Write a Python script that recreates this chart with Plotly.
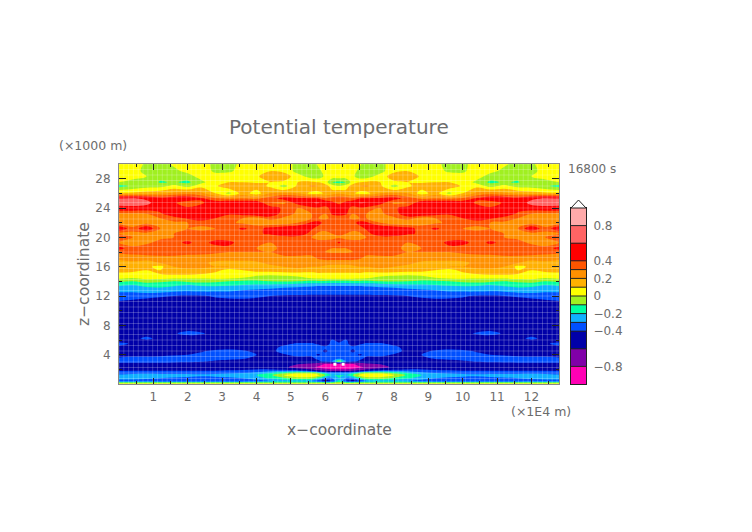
import numpy as np
import plotly.graph_objects as go

# half of the section, the field is mirrored about x = 6.4
x_half = [0, .4, .8, 1.2, 1.6, 2, 2.4, 2.8, 3.2, 3.6, 4, 4.4, 4.8, 5.2, 5.6, 5.8, 6, 6.2, 6.4]
z_levels = [0, .15, .4, .8, 1.2, 1.5, 1.9, 2.3, 2.7, 3.1, 3.5, 4, 4.5, 5, 5.5, 5.8, 6.2, 6.9, 8, 9, 11, 12, 12.5, 13,
            13.5, 14, 14.5, 15, 15.5, 16, 16.5, 17.3, 18, 18.5, 19.3, 20, 20.5, 21.2, 22, 22.6, 23.2, 24, 24.7, 25.3,
            26, 27, 27.5, 28.3, 29, 30]
theta_half = [
    [.03, .03, .03, .03, .03, .03, .03, .03, .03, .03, .03, .03, .03, .03, .03, .03, .03, .03, .03],
    [-.05, -.05, -.05, -.05, -.05, -.05, -.05, -.05, -.05, -.05, -.05, -.05, -.05, -.05, -.05, -.05, -.05, -.05, -.05],
    [-.34, -.34, -.35, -.36, -.37, -.37, -.38, -.38, -.37, -.36, -.34, -.3, -.25, -.25, -.3, -.38, -.45, -.4, -.15],
    [-.27, -.27, -.28, -.3, -.31, -.32, -.33, -.33, -.32, -.3, -.25, -.18, -.12, -.04, -.05, -.15, -.3, -.3, -.2],
    [-.28, -.25, -.25, -.26, -.27, -.27, -.28, -.27, -.26, -.24, -.2, -.12, 0, .08, .08, .03, -.1, -.2, -.2],
    [-.35, -.34, -.33, -.33, -.33, -.33, -.33, -.32, -.31, -.3, -.27, -.2, -.12, -.03, -.03, -.1, -.2, -.25, -.25],
    [-.42, -.42, -.42, -.42, -.42, -.42, -.42, -.42, -.41, -.4, -.38, -.37, -.38, -.42, -.55, -.65, -.72, -.75, -.75],
    [-.44, -.44, -.45, -.45, -.45, -.46, -.46, -.46, -.46, -.47, -.47, -.5, -.55, -.7, -.76, -.84, -.9, -.92, -.95],
    [-.42, -.43, -.43, -.43, -.43, -.44, -.45, -.45, -.45, -.46, -.46, -.47, -.5, -.6, -.66, -.72, -.82, -.85, -.85],
    [-.38, -.37, -.37, -.37, -.38, -.38, -.39, -.41, -.42, -.43, -.44, -.45, -.46, -.45, -.44, -.42, -.37, -.3, 0],
    [-.39, -.38, -.38, -.37, -.37, -.36, -.36, -.37, -.38, -.39, -.42, -.44, -.45, -.43, -.42, -.37, -.36, -.37, -.36],
    [-.43, -.42, -.42, -.42, -.41, -.4, -.38, -.37, -.37, -.36, -.4, -.42, -.41, -.37, -.38, -.41, -.37, -.36, -.38],
    [-.45, -.44, -.44, -.44, -.43, -.42, -.41, -.38, -.37, -.39, -.42, -.43, -.36, -.35, -.35, -.36, -.42, -.36, -.38],
    [-.44, -.45, -.45, -.45, -.45, -.45, -.45, -.45, -.44, -.44, -.44, -.43, -.38, -.36, -.36, -.37, -.38, -.37, -.39],
    [-.36, -.42, -.45, -.46, -.46, -.46, -.46, -.46, -.46, -.46, -.46, -.45, -.42, -.39, -.39, -.41, -.45, -.37, -.39],
    [-.44, -.45, -.45, -.46, -.46, -.46, -.46, -.46, -.46, -.46, -.46, -.46, -.45, -.43, -.43, -.44, -.45, -.38, -.41],
    [-.46, -.44, -.37, -.44, -.46, -.46, -.46, -.46, -.46, -.46, -.46, -.46, -.46, -.46, -.46, -.46, -.46, -.41, -.45],
    [-.47, -.47, -.46, -.45, -.41, -.37, -.39, -.43, -.46, -.46, -.47, -.47, -.47, -.47, -.47, -.47, -.47, -.47, -.47],
    [-.47, -.47, -.47, -.47, -.47, -.47, -.47, -.47, -.47, -.47, -.47, -.47, -.47, -.47, -.47, -.47, -.47, -.47, -.47],
    [-.47, -.47, -.47, -.47, -.47, -.47, -.47, -.47, -.47, -.47, -.47, -.47, -.47, -.47, -.47, -.47, -.47, -.47, -.47],
    [-.42, -.43, -.44, -.45, -.46, -.46, -.45, -.44, -.44, -.45, -.46, -.47, -.47, -.47, -.47, -.47, -.47, -.47, -.47],
    [-.36, -.37, -.38, -.39, -.4, -.41, -.41, -.39, -.38, -.37, -.38, -.4, -.41, -.41, -.41, -.41, -.41, -.41, -.41],
    [-.3, -.3, -.28, -.29, -.31, -.32, -.31, -.31, -.31, -.33, -.34, -.35, -.36, -.37, -.38, -.38, -.38, -.38, -.38],
    [-.25, -.26, -.23, -.22, -.24, -.25, -.26, -.26, -.27, -.28, -.29, -.3, -.32, -.33, -.34, -.35, -.35, -.35, -.35],
    [-.18, -.2, -.16, -.16, -.18, -.2, -.18, -.17, -.18, -.2, -.21, -.22, -.23, -.25, -.27, -.28, -.28, -.28, -.28],
    [-.08, -.1, -.06, -.08, -.1, -.08, -.06, -.08, -.1, -.12, -.12, -.1, -.09, -.1, -.12, -.12, -.12, -.13, -.13],
    [.03, .01, .04, .05, .03, .02, .02, .03, .03, 0, -.04, -.06, -.05, -.03, .02, .04, .05, .05, .05],
    [.06, .05, .08, .1, .12, .12, .1, .06, .04, .05, .04, .03, .05, .06, .06, .08, .08, .08, .08],
    [.16, .14, .1, .1, .16, .18, .17, .14, .05, .1, .14, .14, .16, .16, .15, .15, .14, .14, .14],
    [.18, .15, .12, .07, .2, .22, .22, .2, .2, .18, .18, .18, .2, .22, .2, .2, .18, .18, .18],
    [.18, .18, .15, .2, .22, .22, .22, .18, .16, .16, .18, .22, .24, .25, .24, .24, .24, .22, .22],
    [.22, .25, .27, .28, .28, .26, .25, .25, .27, .27, .26, .28, .28, .27, .27, .33, .36, .38, .38],
    [.33, .35, .35, .36, .36, .35, .35, .32, .3, .3, .3, .3, .36, .38, .36, .33, .3, .28, .28],
    [.45, .33, .35, .36, .35, .35, .35, .35, .36, .33, .3, .28, .32, .32, .3, .3, .3, .3, .3],
    [.3, .25, .28, .33, .37, .42, .35, .44, .44, .33, .3, .3, .32, .32, .32, .32, .32, .33, .42],
    [.32, .3, .28, .28, .3, .35, .35, .35, .32, .3, .3, .32, .35, .35, .3, .28, .28, .28, .28],
    [.3, .28, .25, .27, .3, .32, .33, .35, .35, .35, .38, .42, .5, .5, .35, .28, .28, .3, .32],
    [.5, .33, .5, .3, .28, .3, .28, .3, .35, .42, .35, .45, .5, .5, .42, .35, .32, .36, .36],
    [.25, .22, .25, .28, .28, .3, .33, .32, .32, .28, .25, .2, .22, .3, .42, .45, .35, .3, .3],
    [.25, .25, .28, .3, .35, .42, .48, .4, .32, .3, .25, .35, .28, .25, .3, .3, .28, .32, .32],
    [.28, .28, .3, .38, .5, .5, .5, .5, .42, .45, .5, .48, .35, .28, .3, .3, .3, .42, .45],
    [.5, .5, .48, .45, .5, .42, .45, .48, .4, .48, .5, .45, .38, .3, .35, .38, .35, .45, .45],
    [.72, .75, .68, .45, .42, .32, .38, .48, .5, .5, .48, .3, .28, .45, .6, .62, .5, .42, .38],
    [.6, .62, .55, .45, .5, .5, .42, .32, .28, .3, .28, .35, .45, .42, .42, .4, .32, .36, .38],
    [.12, .12, .15, .18, .22, .25, .22, .1, -.03, .15, .05, .2, .22, .2, .06, .06, .12, .15, .18],
    [-.14, -.08, -.05, -.04, .03, -.04, .07, .08, .18, .2, .15, .08, -.04, .12, .22, .2, .15, .05, 0],
    [0, -.05, -.03, -.11, -.09, -.12, -.03, .07, .1, .1, .09, .1, .08, .1, .12, .1, .05, -.1, -.13],
    [.06, .05, 0, -.07, -.08, -.05, .05, .05, .08, .09, .08, .18, .15, .05, -.05, -.05, .02, .05, .06],
    [.06, .04, -.03, -.06, -.03, .03, .06, -.02, -.02, .05, .07, .1, .08, -.04, -.06, -.03, .04, .06, .07],
    [.05, .03, -.01, -.04, .02, .05, .05, -.03, -.04, .03, .05, .06, .05, -.03, -.06, .02, .05, .05, .05],
]

# off-scale points just above the magenta patch
off_x = [6.28, 6.52]
off_z = [2.7, 2.7]

band_edges = [-1, -.8, -.6, -.4, -.3, -.2, -.1, 0, .1, .2, .3, .4, .6, .8, 1]
band_colors = ['#ff00b4', '#8000a8', '#0000a8', '#0050ff', '#10b0ff', '#00ffa0', '#a0f020',
               '#ffff00', '#ffb000', '#ff9000', '#ff5500', '#ff0000', '#ff6464', '#ffaaaa']
cbar_ticks = [-.8, -.4, -.2, 0, .2, .4, .8]
cbar_labels = ['\u22120.8', '\u22120.4', '\u22120.2', '0', '0.2', '0.4', '0.8']

# mirror the half section
x_full = x_half + [12.8 - v for v in x_half[-2::-1]]
theta = [row + row[-2::-1] for row in theta_half]

colorscale = []
for lo, hi, col in zip(band_edges[:-1], band_edges[1:], band_colors):
    colorscale.append([(lo + 1) / 2, col])
    colorscale.append([(hi + 1) / 2, col])

TXT = '#6c6c6c'
FONT = 'DejaVu Sans'
W = 491  # plot area wide enough to hold the section and the colour bar

fig = go.Figure()
fig.add_trace(go.Contour(
    x=x_full, y=z_levels, z=theta,
    zmin=-1, zmax=1,
    colorscale=colorscale,
    contours=dict(coloring='fill', start=-1, end=1, size=.1, showlines=False),
    line=dict(width=0),
    hoverinfo='skip',
    showscale=False,
))

# faint model mesh on top of the fill
mesh_x = np.arange(0, 12.81, .14)
mesh_z = np.arange(0, 30.01, .75)
lx, ly = [], []
for v in mesh_x:
    lx += [v, v, None]
    ly += [0, 30, None]
for v in mesh_z:
    lx += [0, 12.8, None]
    ly += [v, v, None]
fig.add_trace(go.Scatter(x=lx, y=ly, mode='lines', line=dict(color='rgba(255,255,255,.22)', width=1),
                         hoverinfo='skip', showlegend=False))
fig.add_trace(go.Scatter(x=off_x, y=off_z, mode='markers', marker=dict(color='white', size=3, symbol='square'),
                         hoverinfo='skip', showlegend=False))

# colour bar as its own small heatmap
band_mids = [[(a + b) / 2] for a, b in zip(band_edges[:-1], band_edges[1:])]
fig.add_trace(go.Heatmap(x=[0, 1], y=band_edges, z=band_mids, zmin=-1, zmax=1, colorscale=colorscale,
                         showscale=False, hoverinfo='skip', xaxis='x2', yaxis='y2'))

fig.update_layout(
    xaxis=dict(domain=[0, 440 / W], range=[0, 12.8], tickvals=list(range(1, 13)), ticks='inside', ticklen=6,
               tickcolor='#222', mirror='allticks', showline=True, linecolor='#888', showgrid=False, zeroline=False,
               minor=dict(dtick=.5, ticks='inside', ticklen=3, tickcolor='#222', showgrid=False),
               ticklabelstandoff=2, tickfont=dict(family=FONT, size=12, color=TXT)),
    yaxis=dict(range=[0, 30], tickvals=[4, 8, 12, 16, 20, 24, 28], ticks='inside', ticklen=7,
               tickcolor='#222', mirror='allticks', showline=True, linecolor='#888', showgrid=False, zeroline=False,
               minor=dict(dtick=2, ticks='inside', ticklen=3, tickcolor='#222', showgrid=False),
               ticklabelstandoff=5, tickfont=dict(family=FONT, size=12, color=TXT)),
    xaxis2=dict(domain=[(571 - 119) / W, (586 - 119) / W], range=[0, 1], anchor='y2', showticklabels=False,
                ticks='', showgrid=False, zeroline=False, showline=True, linecolor='#222', mirror=True),
    yaxis2=dict(domain=[0, 176 / 220], range=[-1, 1], anchor='x2', side='right', tickvals=cbar_ticks,
                ticktext=cbar_labels, ticks='', showgrid=False, zeroline=False, showline=True, linecolor='#222',
                mirror=True, ticklabelstandoff=4, tickfont=dict(family=FONT, size=12, color=TXT)),
)


def label(text, px, py, size, angle=0, anchor='center'):
    fig.add_annotation(text=text, xref='paper', yref='paper', x=(px - 119) / W, y=(384 - py) / 220,
                       showarrow=False, xanchor=anchor, yanchor='middle', textangle=angle,
                       font=dict(family=FONT, size=size, color=TXT))


label('Potential temperature', 339, 127, 20)
label('(\u00d71000 m)', 57, 145, 12.5, anchor='left')
label('(\u00d71E4 m)', 509, 411, 12.5, anchor='left')
label('16800 s', 566, 169, 12, anchor='left')
label('x\u2212coordinate', 339, 430, 15.5)
label('z\u2212coordinate', 84, 274, 15.5, angle=-90)

# arrow cap and band separators on the colour bar
bar_l = (571 - 119) / W
bar_r = (586 - 119) / W
bar_m = (578.5 - 119) / W
bar_top = (384 - 208) / 220
fig.add_shape(type='path', xref='paper', yref='paper',
              path=f'M {bar_l} {bar_top} L {bar_m} {(384 - 200) / 220} L {bar_r} {bar_top} Z',
              line=dict(color='#222', width=1), fillcolor='white')
for edge in band_edges[1:-1]:
    fig.add_shape(type='line', xref='x2', yref='y2', x0=0, x1=1, y0=edge, y1=edge,
                  line=dict(color='#222', width=1))

# the page body adds 8px on the left and top
fig.update_layout(width=752, height=532, margin=dict(l=111, r=752 - 111 - W, t=156, b=156), showlegend=False,
                  plot_bgcolor='white', paper_bgcolor='white')
fig.write_html("out.html")
